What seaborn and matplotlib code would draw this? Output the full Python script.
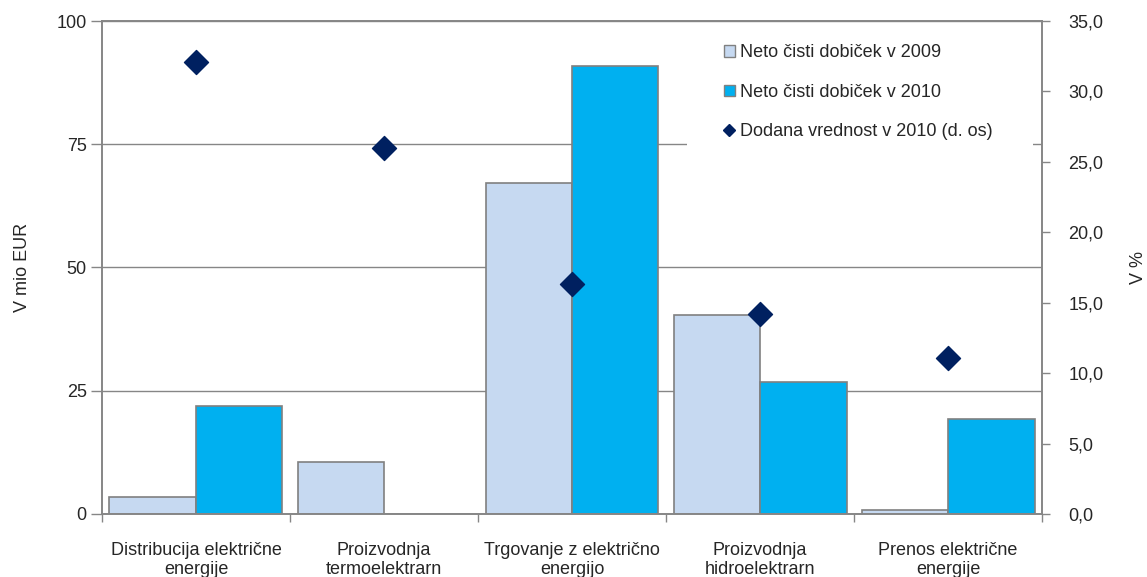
import pandas as pd
import numpy as np
import matplotlib.pyplot as plt
import seaborn as sns
from matplotlib.patches import Patch, Rectangle
from matplotlib.lines import Line2D
from matplotlib.ticker import FuncFormatter, FixedLocator

categories = ["Distribucija električne\nenergije", "Proizvodnja\ntermoelektrarn",
              "Trgovanje z električno\nenergijo", "Proizvodnja\nhidroelektrarn",
              "Prenos električne\nenergije"]
profit_2009 = [3.4, 10.5, 67.1, 40.4, 0.8]
profit_2010 = [21.9, 0.0, 90.9, 26.8, 19.3]
added_value_2010 = [32.1, 26.0, 16.3, 14.2, 11.1]

lab09 = "Neto čisti dobiček v 2009"
lab10 = "Neto čisti dobiček v 2010"
lab_av = "Dodana vrednost v 2010 (d. os)"

df = pd.DataFrame({
    "kat": categories * 2,
    "val": profit_2009 + profit_2010,
    "serija": [lab09] * 5 + [lab10] * 5,
})

sns.set_style("white")
plt.rcParams["font.family"] = ["Liberation Sans", "DejaVu Sans"]

grey = "#868686"
c09 = "#C6D9F1"
c10 = "#00B0F0"
navy = "#002060"
fs = 13

fig = plt.figure(figsize=(11.47, 5.77), dpi=100)
ax = fig.add_axes([0.0889, 0.1092, 0.8196, 0.8544])

sns.barplot(data=df, x="kat", y="val", hue="serija", order=categories,
            palette=[c09, c10], saturation=1, width=0.92, edgecolor="#808080",
            linewidth=1.2, ax=ax, legend=False)
ax.set_ylim(0, 100)
ax.set_xlim(-0.5, 4.5)
ax.set_yticks([0, 25, 50, 75, 100])
ax.yaxis.grid(True, color=grey, linewidth=1)
ax.set_axisbelow(True)
ax.set_xlabel("")
ax.set_ylabel("V mio EUR", fontsize=fs, labelpad=18)
ax.tick_params(axis="y", length=8, width=1, color=grey, labelsize=fs, pad=3, left=True)
ax.tick_params(axis="x", which="major", length=0, labelsize=fs, pad=20)
ax.xaxis.set_minor_locator(FixedLocator(np.arange(-0.5, 5, 1)))
ax.tick_params(axis="x", which="minor", length=6, width=1, color=grey, bottom=True, direction="out")
for lbl in ax.get_xticklabels():
    lbl.set_linespacing(1.15)
for s in ax.spines.values():
    s.set_color(grey)
    s.set_linewidth(1.2)

ax2 = ax.twinx()
sns.scatterplot(x=categories, y=added_value_2010, marker="D", s=150, color=navy,
                edgecolor=navy, ax=ax2, zorder=5)
ax2.set_ylim(0, 35)
ax2.set_yticks(np.arange(0, 36, 5))
ax2.yaxis.set_major_formatter(FuncFormatter(lambda v, p: f"{v:.1f}".replace(".", ",")))
ax2.tick_params(axis="y", length=6, width=1, color=grey, labelsize=fs, pad=13, right=True)
ax2.set_ylabel("V %", fontsize=fs, labelpad=19)
for s in ax2.spines.values():
    s.set_color(grey)
    s.set_linewidth(1.2)

# white area behind the legend, hiding the grid line like the original
ax2.add_patch(Rectangle((0.622, 0.70), 0.368, 0.285, transform=ax2.transAxes,
                        facecolor="white", edgecolor="none", zorder=3))

handles = [
    Patch(facecolor=c09, edgecolor="#808080", label=lab09),
    Patch(facecolor=c10, edgecolor="#808080", label=lab10),
    Line2D([], [], marker="D", linestyle="none", color=navy, markersize=6, label=lab_av),
]
leg = ax2.legend(handles=handles, loc="upper left", bbox_to_anchor=(0.65, 0.975),
                 frameon=False, fontsize=fs, labelspacing=1.25, handlelength=0.6,
                 handleheight=0.6, handletextpad=0.3, borderpad=0.6, borderaxespad=0)
leg.set_zorder(6)

fig.savefig("out.png", dpi=100)
